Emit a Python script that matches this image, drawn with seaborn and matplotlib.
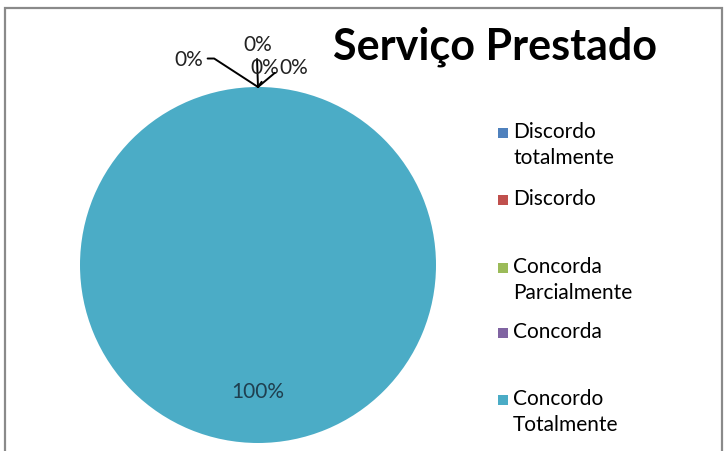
import matplotlib
matplotlib.use("Agg")
import matplotlib.pyplot as plt
import seaborn as sns
import numpy as np
from matplotlib.patches import Rectangle

# dados do gráfico
categorias = ["Discordo totalmente", "Discordo", "Concorda Parcialmente",
              "Concorda", "Concordo Totalmente"]
legenda = ["Discordo\ntotalmente", "Discordo", "Concorda\nParcialmente",
           "Concorda", "Concordo\nTotalmente"]
valores = [0, 0, 0, 0, 100]
titulo = "Serviço Prestado"

sns.set_theme(style="white")
plt.rcParams["font.family"] = ["Lato", "DejaVu Sans"]
cores = sns.color_palette(["#4F81BD", "#C0504D", "#9BBB59", "#8064A2", "#4BACC6"])

W, H = 724, 452
fig = plt.figure(figsize=(W / 100, H / 100), dpi=100)

# moldura cinza
fig.patches.append(Rectangle((5 / W, -0.05), 717 / W, 1.05 - 9 / H,
                             transform=fig.transFigure, fill=False,
                             edgecolor="#8a8a8a", linewidth=1.6))

ax = fig.add_axes([80 / W, 8 / H, 356 / W, 356 / H])
wedges, _ = ax.pie(valores, colors=cores, startangle=90, counterclock=False,
                   radius=1, wedgeprops=dict(linewidth=0))
ax.set_xlim(-1, 1)
ax.set_ylim(-1, 1)
ax.set_aspect("equal")
ax.axis("off")

total = sum(valores)
# posições dos rótulos (texto) e estilo das linhas de chamada
pos_rotulos = [(-0.39, 1.16), (0.0, 1.24), (0.04, 1.11), (0.20, 1.11), (0.0, -0.71)]
angulos_b = [147, 92, 55, 40, None]
for i, w in enumerate(wedges):
    pct = f"{valores[i] / total * 100:.0f}%"
    meio = np.deg2rad((w.theta1 + w.theta2) / 2)
    ponta = (np.cos(meio), np.sin(meio))
    if valores[i] == 0:
        ax.annotate(pct, xy=ponta, xytext=pos_rotulos[i], ha="center", va="center",
                    fontsize=15, color="#222222", annotation_clip=False,
                    arrowprops=dict(arrowstyle="-", color="black", lw=1.4,
                                    shrinkA=1, shrinkB=0,
                                    connectionstyle=f"angle,angleA=0,angleB={angulos_b[i]},rad=0"))
    else:
        ax.text(*pos_rotulos[i], pct, ha="center", va="center",
                fontsize=15, color="#1f3f4f")

fig.text(495 / W, 1 - 47 / H, titulo, fontsize=31, fontweight="bold",
         ha="center", va="center", color="black")

# legenda
linhas_y = [134, 201, 269, 334, 401]
for cor, rotulo, y in zip(cores, legenda, linhas_y):
    fig.patches.append(Rectangle((498 / W, 1 - (y + 5) / H), 10.5 / W, 10.5 / H,
                                 transform=fig.transFigure, facecolor=cor,
                                 edgecolor="none"))
    fig.text(513 / W, 1 - (y - 12) / H, rotulo, fontsize=15, ha="left", va="top",
             linespacing=1.35, color="black")

fig.savefig("out.png", dpi=100)
